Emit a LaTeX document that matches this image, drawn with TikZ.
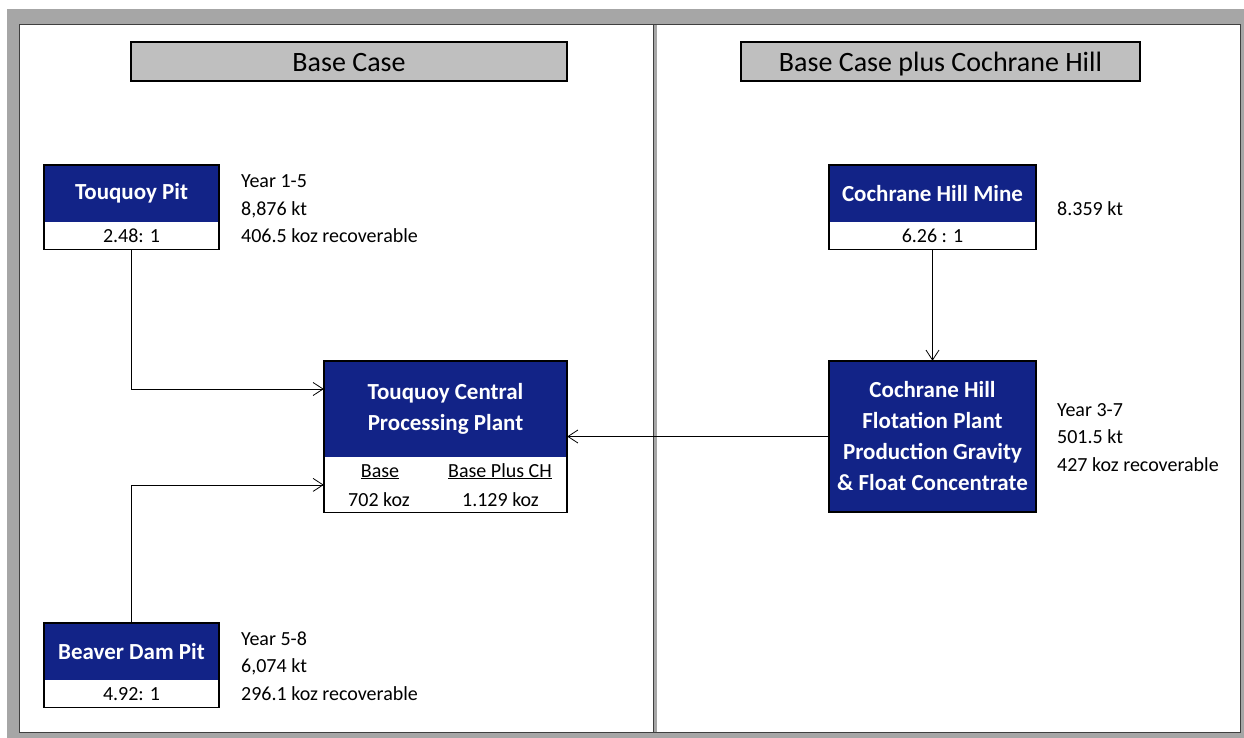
\documentclass[tikz,border=0pt]{standalone}
\usepackage{fontspec}
\setmainfont{Carlito}
\usetikzlibrary{arrows.meta}

\definecolor{navy}{RGB}{18,35,135}
\definecolor{headgray}{RGB}{191,191,191}
\definecolor{framegray}{RGB}{166,166,166}
\definecolor{edgegray}{RGB}{64,64,64}

\tikzset{
  headbox/.style={draw=black, line width=1.6pt, fill=headgray, minimum height=39pt,
    inner sep=0pt, text height=27pt, text depth=6pt, font=\fontsize{28}{32}\selectfont},
  bluebox/.style={fill=navy, text=white, align=center, inner sep=0pt,
    font=\bfseries\fontsize{23}{31}\selectfont},
  ratiobox/.style={fill=white, inner sep=0pt, minimum height=27pt,
    font=\fontsize{20}{24}\selectfont},
  outline/.style={draw=black, line width=1.5pt},
  note/.style={anchor=west, align=left, inner sep=0pt, font=\fontsize{20}{27.5}\selectfont},
  cell/.style={anchor=base, inner sep=0pt, font=\fontsize{20}{24}\selectfont},
  flow/.style={-{Straight Barb[length=10pt,width=13pt]}, line width=0.8pt}
}

\begin{document}
\begin{tikzpicture}[x=1pt,y=-1pt]
    \useasboundingbox (0,0) rectangle (1244,738);
    % frame
    \fill[framegray] (7,9) rectangle (1244,738);
    \draw[edgegray, line width=1.5pt, fill=white] (19.5,24.5) rectangle (1240.5,732.5);
    \draw[framegray, line width=3pt] (655.5,25) -- (655.5,732);
    \draw[edgegray, line width=1pt] (653.5,25) -- (653.5,732);

    % headers
    \node[headbox, minimum width=436pt] (hbase) at (349,61.5) {Base Case};
    \node[headbox, minimum width=399pt] (hch) at (940.5,61.5) {Base Case plus Cochrane Hill};

    % Touquoy Pit
    \node[bluebox, minimum width=175pt, minimum height=57pt] (tp) at (131.5,193.5) {Touquoy Pit};
    \node[ratiobox, minimum width=175pt, anchor=north] (tpr) at (tp.south) {2.48: 1};
    \draw[outline] (tp.north west) rectangle (tpr.south east);
    \node[note] (tpn) at (241,209) {Year 1-5\\8,876 kt\\406.5 koz recoverable};

    % Beaver Dam Pit
    \node[bluebox, minimum width=175pt, minimum height=57pt] (bd) at (131.5,651.5) {Beaver Dam Pit};
    \node[ratiobox, minimum width=175pt, anchor=north] (bdr) at (bd.south) {4.92: 1};
    \draw[outline] (bd.north west) rectangle (bdr.south east);
    \node[note] (bdn) at (241,666) {Year 5-8\\6,074 kt\\296.1 koz recoverable};

    % Touquoy Central Processing Plant
    \node[bluebox, minimum width=243pt, minimum height=96pt] (cp) at (445.5,409) {Touquoy Central\\Processing Plant};
    \node[fill=white, minimum width=243pt, minimum height=55pt, inner sep=0pt, anchor=north] (cpr) at (cp.south) {};
    \draw[outline] (cp.north west) rectangle (cpr.south east);
    \node[cell] (cb) at (380,477) {\underline{Base}};
    \node[cell] (cc) at (500,477) {\underline{Base Plus CH}};
    \node[cell] (cbv) at (379,506) {702 koz};
    \node[cell] (ccv) at (500.5,506) {1.129 koz};

    % Cochrane Hill Mine
    \node[bluebox, minimum width=207pt, minimum height=57pt] (ch) at (932.5,193.5) {Cochrane Hill Mine};
    \node[ratiobox, minimum width=207pt, anchor=north] (chr) at (ch.south) {6.26 : 1};
    \draw[outline] (ch.north west) rectangle (chr.south east);
    \node[note] (chn) at (1057,209) {8.359 kt};

    % Cochrane Hill Flotation Plant
    \node[bluebox, minimum width=207pt, minimum height=151pt] (fp) at (932.5,436.5)
        {Cochrane Hill\\Flotation Plant\\Production Gravity\\\& Float Concentrate};
    \draw[outline] (fp.north west) rectangle (fp.south east);
    \node[note] (fpn) at (1057,437.5) {Year 3-7\\501.5 kt\\427 koz recoverable};

    % flows
    \draw[flow] (tpr.south) |- ([yshift=20pt]cp.west);
    \draw[flow] (bd.north) |- (cpr.west);
    \draw[flow] (chr.south) -- (fp.north);
    \draw[flow] (fp.west) -- (fp.west -| cp.east);
\end{tikzpicture}
\end{document}
